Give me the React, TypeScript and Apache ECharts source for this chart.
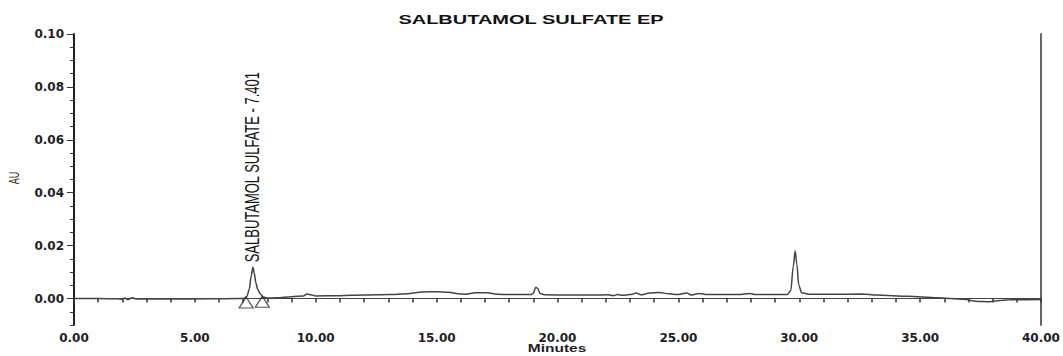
import React, { useEffect, useRef } from "react";
import * as echarts from "echarts";

// Chromatogram trace: retention time (min) and detector response (AU)
const retentionTimes = [
  0.0, 1.0, 1.8, 2.0, 2.1, 2.25, 2.4, 2.55, 2.7, 4.0, 5.5, 6.8, 7.05, 7.15, 7.25, 7.33, 7.401, 7.46, 7.52, 7.6,
  7.7, 7.82, 8.0, 8.4, 9.0, 9.5, 9.65, 9.8, 10.0, 11.0, 12.0, 13.0, 13.8, 14.4, 15.0, 15.5, 15.9, 16.2, 16.6, 17.1,
  17.5, 18.0, 18.9, 19.0, 19.1, 19.18, 19.28, 19.5, 20.5, 21.5, 22.1, 22.3, 22.5, 22.7, 23.1, 23.25, 23.45, 23.8,
  24.2, 24.6, 25.0, 25.35, 25.55, 25.85, 26.2, 27.5, 27.95, 28.2, 29.5, 29.65, 29.75, 29.83, 29.9, 29.98, 30.1,
  30.4, 31.5, 32.6, 33.2, 34.5, 35.7, 36.8, 37.4, 37.8, 38.2, 38.7, 40.0,
];
const absorbance = [
  0.0, 0.0, -0.0001, -0.0003, 0.0002, -0.0004, 0.0003, -0.0001, -0.0002, -0.0002, -0.0001, 0.0, 0.0001, 0.0008,
  0.0035, 0.0085, 0.0118, 0.0095, 0.006, 0.0035, 0.0018, 0.0006, 0.0002, 0.0003, 0.0007, 0.001, 0.0017, 0.0014,
  0.001, 0.0011, 0.0013, 0.0015, 0.0018, 0.0025, 0.0026, 0.0024, 0.0018, 0.0016, 0.0022, 0.0022, 0.0016, 0.0015,
  0.0015, 0.002, 0.0043, 0.0038, 0.0019, 0.0014, 0.0013, 0.0013, 0.0014, 0.0011, 0.0015, 0.0012, 0.0016, 0.0021,
  0.0014, 0.0021, 0.0023, 0.0018, 0.0015, 0.0021, 0.0013, 0.0019, 0.0015, 0.0015, 0.0019, 0.0015, 0.0015, 0.003,
  0.012, 0.018, 0.013, 0.005, 0.0022, 0.0016, 0.0016, 0.0017, 0.0013, 0.0009, 0.0003, -0.0003, -0.0011, -0.0012,
  -0.0008, -0.0005, -0.0004,
];

// Integrated peak
const peakName = "SALBUTAMOL SULFATE";
const peakRetention = 7.401;
const peakStartEnd = [
  [7.12, 0.0006],
  [7.79, 0.0009],
];

// Axis ticks
const xLabelValues = [0, 5, 10, 15, 20, 25, 30, 35, 40];
const yLabelValues = [0, 0.02, 0.04, 0.06, 0.08, 0.1];

const TEXT = "#1e1e24";
const SANS = "'Liberation Sans', Arial, sans-serif";
const LABEL_FONT = "'DejaVu Sans', 'Liberation Sans', sans-serif";
const STRETCH = 1.55;

export default function App() {
  const ref = useRef<HTMLDivElement>(null);

  useEffect(() => {
    if (!ref.current) return;
    const chart = echarts.init(ref.current, undefined, { renderer: "svg" });

    const trace = retentionTimes.map((t, i) => [t, absorbance[i]]);
    const peakIndex = retentionTimes.indexOf(peakRetention);
    const peakHeight = absorbance[peakIndex];

    const yRange = { min: -0.01, max: 0.1 };

    chart.setOption({
      animation: false,
      backgroundColor: "#ffffff",
      grid: { left: 74, right: 22, top: 34, bottom: 31, show: false },
      xAxis: [
        {
          type: "value",
          min: 0,
          max: 40,
          interval: 1,
          axisLine: { show: true, lineStyle: { color: "#222", width: 1.2 } },
          axisTick: { show: true, length: 4, lineStyle: { color: "#333", width: 1.5 } },
          splitLine: { show: false },
          axisLabel: {
            customValues: xLabelValues,
            formatter: (v: number) => v.toFixed(2),
            color: TEXT,
            fontFamily: LABEL_FONT,
            fontWeight: "bold",
            fontSize: 12,
            margin: 7,
          },
        },
        {
          type: "value",
          position: "top",
          min: 0,
          max: 40,
          axisLine: { show: true, lineStyle: { color: "#444", width: 1 } },
          axisTick: { show: false },
          axisLabel: { show: false },
          splitLine: { show: false },
        },
      ],
      yAxis: [
        {
          type: "value",
          ...yRange,
          interval: 0.005,
          axisLine: { show: true, lineStyle: { color: "#222", width: 2 } },
          axisTick: { show: true, length: 4, lineStyle: { color: "#333", width: 1 } },
          splitLine: { show: false },
          axisLabel: {
            customValues: yLabelValues,
            formatter: (v: number) => v.toFixed(2),
            color: TEXT,
            fontFamily: LABEL_FONT,
            fontWeight: "bold",
            fontSize: 12,
            margin: 10,
          },
        },
        {
          type: "value",
          position: "left",
          ...yRange,
          interval: 0.005,
          axisLine: { show: false },
          axisTick: {
            show: true,
            length: 7,
            customValues: yLabelValues,
            lineStyle: { color: "#333", width: 1 },
          },
          axisLabel: { show: false },
          splitLine: { show: false },
        },
        {
          type: "value",
          position: "right",
          ...yRange,
          axisLine: { show: true, lineStyle: { color: "#666", width: 2 } },
          axisTick: { show: false },
          axisLabel: { show: false },
          splitLine: { show: false },
        },
      ],
      series: [
        {
          type: "line",
          data: trace,
          showSymbol: false,
          smooth: 0.3,
          smoothMonotone: "x",
          lineStyle: { color: "#444", width: 1.5 },
          z: 3,
        },
        {
          type: "scatter",
          data: peakStartEnd,
          symbol: "triangle",
          symbolSize: [14, 11],
          symbolOffset: [0, "50%"],
          itemStyle: { color: "rgba(0,0,0,0)", borderColor: "#2a2a2a", borderWidth: 1.2 },
          z: 4,
        },
      ],
    });

    const [px, py] = chart.convertToPixel({ xAxisIndex: 0, yAxisIndex: 0 }, [peakRetention, peakHeight]) as number[];

    chart.setOption({
      graphic: [
        {
          type: "text",
          x: 531,
          y: 19.5,
          scaleX: STRETCH + 0.05,
          style: {
            text: "SALBUTAMOL SULFATE EP",
            x: 0,
            y: 0,
            align: "center",
            verticalAlign: "middle",
            fill: "#111",
            font: `bold 12.5px ${SANS}`,
          },
        },
        {
          type: "text",
          x: 557,
          y: 344,
          scaleX: STRETCH,
          style: {
            text: "Minutes",
            x: 0,
            y: 0,
            align: "center",
            verticalAlign: "top",
            fill: TEXT,
            font: `bold 10px ${SANS}`,
          },
        },
        {
          type: "text",
          x: 14,
          y: 178,
          rotation: Math.PI / 2,
          scaleY: STRETCH,
          style: {
            text: "AU",
            x: 0,
            y: 0,
            align: "center",
            verticalAlign: "middle",
            fill: TEXT,
            font: `9px ${SANS}`,
          },
        },
        {
          type: "text",
          x: px,
          y: py - 5,
          rotation: Math.PI / 2,
          scaleY: STRETCH,
          style: {
            text: `${peakName} - ${peakRetention.toFixed(3)}`,
            x: 0,
            y: 0,
            align: "left",
            verticalAlign: "middle",
            fill: "#151515",
            font: `13px ${SANS}`,
          },
        },
      ],
    });

    return () => chart.dispose();
  }, []);

  return (
    <div
      ref={ref}
      style={{ position: "fixed", left: 0, top: 0, width: 1063, height: 356, background: "#fff" }}
    />
  );
}
